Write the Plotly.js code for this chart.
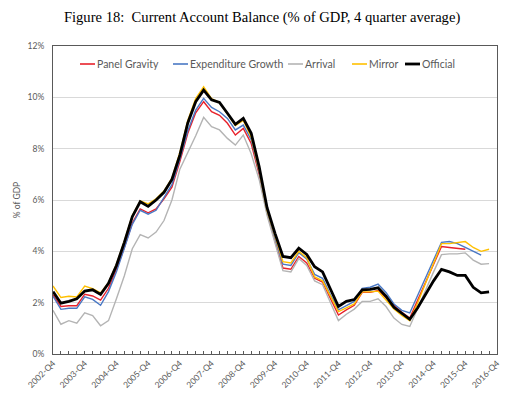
<!DOCTYPE html>
<html>
<head>
<meta charset="utf-8">
<script src="https://cdn.plot.ly/plotly-3.0.1.min.js"></script>
<style>html,body{margin:0;padding:0;background:#fff;}#chart{width:520px;height:410px;}</style>
</head>
<body>
<div id="chart"></div>
<script>
// Quarter categories 2002-Q4 ... 2016-Q4
const quarters = ["2002-Q4"];
for (let y = 2003; y <= 2016; y++) { for (let q = 1; q <= 4; q++) quarters.push(y + "-Q" + q); }
const tickLabels = ["2002-Q4","2003-Q4","2004-Q4","2005-Q4","2006-Q4","2007-Q4","2008-Q4","2009-Q4","2010-Q4","2011-Q4","2012-Q4","2013-Q4","2014-Q4","2015-Q4","2016-Q4"];

const panelGravity = [2.3,1.85,1.88,1.88,2.33,2.26,2.1,2.56,3.3,4.15,5.1,5.65,5.5,5.65,6.05,6.5,7.5,8.6,9.4,9.83,9.44,9.3,8.99,8.53,8.79,8.2,7.0,5.5,4.4,3.35,3.3,3.8,3.55,2.95,2.8,2.15,1.52,1.72,1.9,2.4,2.4,2.47,2.2,1.9,1.62,1.4,2.1,2.8,3.5,4.19,4.15,4.12,4.08];
const expenditureGrowth = [2.25,1.74,1.78,1.78,2.23,2.13,1.9,2.43,3.2,4.1,5.05,5.6,5.45,5.6,6.1,6.6,7.6,8.7,9.5,9.96,9.61,9.44,9.18,8.73,8.92,8.35,7.1,5.55,4.5,3.5,3.45,3.95,3.7,3.1,2.95,2.3,1.72,1.9,2.05,2.56,2.6,2.72,2.4,1.95,1.7,1.6,2.3,3.0,3.7,4.35,4.38,4.3,4.15,4.0,3.85];
const arrival = [1.7,1.16,1.3,1.2,1.6,1.5,1.1,1.3,2.15,3.05,4.1,4.65,4.52,4.75,5.2,6.0,7.2,7.85,8.5,9.22,8.86,8.73,8.4,8.14,8.53,7.8,6.8,5.4,4.3,3.25,3.2,3.72,3.45,2.85,2.7,2.0,1.3,1.55,1.75,2.05,2.05,2.15,1.85,1.4,1.15,1.07,1.8,2.5,3.2,3.87,3.9,3.9,3.94,3.66,3.5,3.52];
const mirror = [2.65,2.2,2.25,2.22,2.65,2.55,2.38,2.78,3.5,4.4,5.4,5.97,5.85,6.05,6.35,6.85,7.85,9.1,9.95,10.41,9.95,9.8,9.35,8.9,9.1,8.45,7.15,5.6,4.6,3.6,3.55,4.0,3.75,3.0,2.85,2.25,1.65,1.8,1.95,2.42,2.42,2.45,2.1,1.75,1.5,1.3,2.0,2.75,3.55,4.3,4.3,4.35,4.38,4.15,4.0,4.08];
const official = [2.43,1.98,2.05,2.15,2.45,2.5,2.32,2.75,3.45,4.35,5.35,5.93,5.75,6.0,6.3,6.8,7.75,9.0,9.83,10.28,9.9,9.8,9.38,8.95,9.18,8.6,7.3,5.7,4.7,3.8,3.75,4.12,3.88,3.4,3.2,2.5,1.85,2.05,2.12,2.5,2.52,2.58,2.25,1.82,1.58,1.35,1.8,2.33,2.85,3.3,3.2,3.06,3.06,2.6,2.38,2.42];

const seriesNames = ["Panel Gravity","Expenditure Growth","Arrival","Mirror","Official"];
const seriesData = [panelGravity, expenditureGrowth, arrival, mirror, official];
const seriesColors = ["#e8212b","#4a78c4","#b4b4b4","#ffc000","#000000"];
const seriesWidths = [1.4,1.4,1.4,1.4,2.8];

const idx = quarters.map((_, i) => i);
const tickIdx = tickLabels.map(t => quarters.indexOf(t));

const traces = seriesData.map((d, k) => ({
  x: idx.slice(0, d.length), y: d, type: 'scatter', mode: 'lines',
  name: seriesNames[k], showlegend: false, hoverinfo: 'skip',
  line: {color: seriesColors[k], width: seriesWidths[k]}
}));

// manual legend (Excel-style short line keys)
const W = 520, H = 410, mL = 53, mR = 23, mT = 46, mB = 56;
const pw = W - mL - mR, ph = H - mT - mB;
const legX = [80, 173, 288, 352, 405];
const legY = 64;
const keyLen = 15;
const shapes = [], annotations = [];
seriesNames.forEach((n, k) => {
  const x0 = (legX[k] - mL) / pw, x1 = (legX[k] + keyLen - mL) / pw;
  const yy = (H - mB - legY) / ph;
  shapes.push({type: 'line', xref: 'paper', yref: 'paper', x0: x0, x1: x1, y0: yy, y1: yy,
    line: {color: seriesColors[k], width: k === 4 ? 2.8 : 1.6}});
  annotations.push({xref: 'paper', yref: 'paper', x: x1, y: yy, xanchor: 'left', yanchor: 'middle',
    text: n, showarrow: false, font: {family: 'Lato, Liberation Sans, sans-serif', size: 10.5, color: '#595959'}});
});

const layout = {
  width: W, height: H,
  margin: {l: mL, r: mR, t: mT, b: mB},
  paper_bgcolor: '#fff', plot_bgcolor: '#fff',
  title: {text: 'Figure 18:  Current Account Balance (% of GDP, 4 quarter average)',
    x: 0.504, xanchor: 'center', y: 1 - 17 / H, yanchor: 'middle', xref: 'container', yref: 'container',
    font: {family: 'Liberation Serif, Times New Roman, serif', size: 14.6, color: '#000'}},
  xaxis: {
    range: [0, quarters.length - 1], tickmode: 'array', tickvals: tickIdx, ticktext: tickLabels,
    tickangle: -45, ticks: 'inside', ticklen: 3, tickcolor: '#595959',
    minor: {dtick: 1, tick0: 0, ticks: 'inside', ticklen: 3, tickcolor: '#595959', showgrid: false},
    showgrid: false, zeroline: false, showline: true, linecolor: '#595959', linewidth: 1, mirror: true,
    tickfont: {family: 'Lato, Liberation Sans, sans-serif', size: 8.5, color: '#595959'}
  },
  yaxis: {
    range: [0, 12], dtick: 2, ticksuffix: '%', showgrid: true, gridcolor: '#d9d9d9', gridwidth: 1,
    zeroline: false, showline: true, linecolor: '#595959', linewidth: 1, mirror: true,
    ticks: 'outside', ticklen: 6, tickcolor: 'rgba(0,0,0,0)',
    tickfont: {family: 'Lato, Liberation Sans, sans-serif', size: 8.5, color: '#595959'},
    title: {text: '% of GDP', standoff: 5, font: {family: 'Lato, Liberation Sans, sans-serif', size: 8.5, color: '#595959'}}
  },
  shapes: shapes, annotations: annotations
};

Plotly.newPlot('chart', traces, layout, {displayModeBar: false, staticPlot: true});
</script>
</body>
</html>
